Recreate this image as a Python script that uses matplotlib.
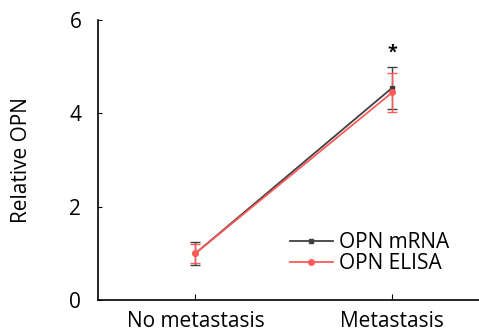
import matplotlib
matplotlib.use("Agg")
import matplotlib.pyplot as plt
from matplotlib.lines import Line2D

categories = ["No metastasis", "Metastasis"]
mrna = [1.0, 4.55]
mrna_err = [0.25, 0.45]
elisa = [1.0, 4.45]
elisa_err = [0.2, 0.42]
yticks = [0, 2, 4, 6]

plt.rcParams['font.family'] = ['Open Sans', 'DejaVu Sans']

fig = plt.figure(figsize=(4.79, 3.33), dpi=100)
ax = fig.add_axes([98/479, 33/333, 1 - 98/479, 280/333])

x = [1, 2]
c_m = '#404040'
c_e = '#ff5a5a'
ax.errorbar(x, mrna, yerr=mrna_err, color=c_m, marker='s', markersize=3.5,
            linewidth=1.3, capsize=3.5, elinewidth=1.0, capthick=1.0)
ax.errorbar(x, elisa, yerr=elisa_err, color=c_e, marker='o', markersize=4,
            linewidth=1.3, capsize=3.5, elinewidth=1.0, capthick=1.0)

ax.text(2, 5.1, '*', ha='center', va='bottom', fontsize=13, fontweight='bold')

ax.set_xlim(0.505, 2.44)
ax.set_ylim(0, 6)
ax.set_yticks(yticks)
ax.set_xticks(x)
ax.set_xticklabels(categories, fontsize=15)
ax.tick_params(axis='y', labelsize=15, direction='in', length=3, pad=12)
ax.tick_params(axis='x', direction='in', length=4, pad=8)
ax.spines['top'].set_visible(False)
ax.spines['right'].set_visible(False)
ax.spines['left'].set_linewidth(1.2)
ax.spines['bottom'].set_linewidth(1.2)
ax.set_ylabel('Relative OPN', fontsize=15, labelpad=27)

handles = [Line2D([], [], color=c_m, marker='s', markersize=3.5, linewidth=1.3),
           Line2D([], [], color=c_e, marker='o', markersize=4, linewidth=1.3)]
leg = ax.legend(handles, ['OPN mRNA', 'OPN ELISA'], loc='lower right',
                bbox_to_anchor=(0.959, 0.04), frameon=False,
                fontsize=15, handlelength=2.1, handletextpad=0.25, labelspacing=0.0,
                borderaxespad=0.3)

fig.savefig('out.png', dpi=100)
